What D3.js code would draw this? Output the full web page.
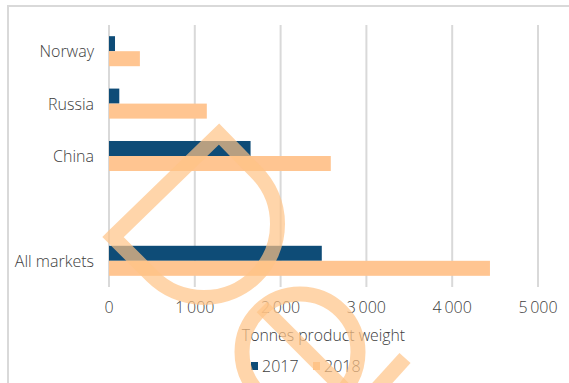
<!DOCTYPE html>
<html>
<head>
<meta charset="utf-8">
<script src="https://cdn.jsdelivr.net/npm/d3@7"></script>
<style>
  body { margin: 0; background: #fff; }
  svg text { font-family: "Open Sans", "Noto Sans", sans-serif; fill: #404040; font-weight: 300; }
</style>
</head>
<body>
<div id="chart"></div>
<script>
const categories = ["Norway", "Russia", "China", " ", "All markets"];
const seriesNames = ["2017", "2018"];
const values2017 = [70, 120, 1650, null, 2480];
const values2018 = [360, 1140, 2585, null, 4440];
const xTicks = [0, 1000, 2000, 3000, 4000, 5000];
const colors = ["#0e4c77", "#ffc591"];

const W = 569, H = 383;
const svg = d3.select("#chart").append("svg")
    .attr("width", W)
    .attr("height", H);

// frame
svg.append("rect")
    .attr("x", 8).attr("y", 6)
    .attr("width", W + 20).attr("height", H + 20)
    .attr("fill", "none")
    .attr("stroke", "#d9d9d9")
    .attr("stroke-width", 2);

const x = d3.scaleLinear().domain([0, 5000]).range([109, 538]);
const y = d3.scaleBand().domain(categories).range([25, 287])
    .paddingInner(0.427).paddingOuter(0.2135);
const ySub = d3.scaleBand().domain(seriesNames).range([0, y.bandwidth()]);

// gridlines
svg.append("g").selectAll("line")
    .data(xTicks)
    .join("line")
    .attr("x1", d => x(d)).attr("x2", d => x(d))
    .attr("y1", 25).attr("y2", 287)
    .attr("stroke", "#d9d9d9")
    .attr("stroke-width", 2);

// tick labels
const fmt = d => d3.format(",")(d).replace(/,/g, "\u2009");
svg.append("g").selectAll("text")
    .data(xTicks)
    .join("text")
    .attr("x", d => x(d))
    .attr("y", 307)
    .attr("text-anchor", "middle")
    .attr("dominant-baseline", "central")
    .style("font-size", "16px")
    .text(fmt);

// category labels
svg.append("g").selectAll("text")
    .data(categories)
    .join("text")
    .attr("x", 94)
    .attr("y", d => y(d) + y.bandwidth() / 2)
    .attr("text-anchor", "end")
    .attr("dominant-baseline", "central")
    .style("font-size", "16px")
    .text(d => d.trim());

// bars
const series = [values2017, values2018];
series.forEach((vals, si) => {
    const rows = categories.map((c, i) => ({ cat: c, v: vals[i] })).filter(d => d.v !== null);
    svg.append("g").selectAll("rect")
        .data(rows)
        .join("rect")
        .attr("x", x(0))
        .attr("y", d => y(d.cat) + ySub(seriesNames[si]))
        .attr("width", d => x(d.v) - x(0))
        .attr("height", ySub.bandwidth())
        .attr("fill", colors[si]);
});

// axis title
svg.append("text")
    .attr("x", (x(0) + x(5000)) / 2)
    .attr("y", 335)
    .attr("text-anchor", "middle")
    .attr("dominant-baseline", "central")
    .style("font-size", "15.8px")
    .text("Tonnes product weight");

// legend
const legend = svg.append("g").attr("transform", "translate(251,366)");
seriesNames.forEach((s, i) => {
    const g = legend.append("g").attr("transform", `translate(${i * 62},0)`);
    g.append("rect").attr("x", 0).attr("y", -4).attr("width", 7).attr("height", 8).attr("fill", colors[i]);
    g.append("text").attr("x", 11).attr("y", 0)
        .attr("dominant-baseline", "central")
        .style("font-size", "16px")
        .text(s);
});

// watermark overlay
const wm = svg.append("g")
    .attr("fill", "none")
    .attr("stroke", "rgb(255,195,134)")
    .attr("stroke-opacity", 0.7)
    .attr("stroke-width", 15);
wm.append("path")
    .attr("stroke-linejoin", "miter")
    .attr("d", "M113,237 L219,134 L256,172 A73,73 0 0 1 152,276 Z");
wm.append("circle").attr("cx", 300).attr("cy", 352).attr("r", 58);
wm.append("line").attr("x1", 262).attr("y1", 307).attr("x2", 345).attr("y2", 390);
wm.append("line").attr("x1", 405).attr("y1", 358).attr("x2", 376).attr("y2", 390);
</script>
</body>
</html>
